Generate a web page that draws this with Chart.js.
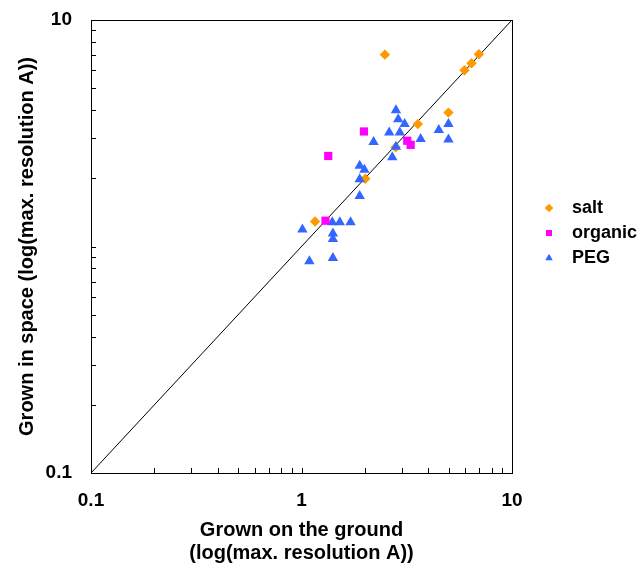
<!DOCTYPE html>
<html>
<head>
<meta charset="utf-8">
<script src="https://cdn.jsdelivr.net/npm/chart.js@4.4.1/dist/chart.umd.min.js"></script>
<style>
  html, body { margin: 0; padding: 0; background: #fff; }
</style>
</head>
<body>
<canvas id="grafico" width="644" height="568"></canvas>
<script>
// datos (resolucion max. en A)
const saltX = [2.49, 5.95, 6.42, 6.96, 4.99, 3.57, 2.80, 2.01, 1.16];
const saltY = [7.03, 6.00, 6.44, 7.06, 3.90, 3.47, 2.74, 1.99, 1.29];

const organicX = [1.98, 1.34, 3.18, 3.30, 1.30];
const organicY = [3.22, 2.51, 2.93, 2.81, 1.30];

const pegX = [2.81, 2.88, 3.09, 2.61, 2.93, 2.20, 3.68, 4.49, 4.99, 4.99, 2.81, 2.70,
              1.89, 1.99, 1.89, 1.89, 1.01, 1.40, 1.52, 1.71, 1.41, 1.41, 1.09, 1.41];
const pegY = [4.00, 3.65, 3.47, 3.19, 3.19, 2.89, 2.98, 3.27, 3.47, 2.97, 2.76, 2.48,
              2.27, 2.18, 1.98, 1.67, 1.19, 1.28, 1.28, 1.28, 1.14, 1.08, 0.86, 0.89];

const diagonal = [0.1, 10];

// etiquetas de los ejes (el eje Y no muestra el 1)
const valoresX = [0.1, 1, 10];
const etiquetasX = ['0.1', '1', '10'];
const valoresY = [0.1, 10];
const etiquetasY = ['0.1', '10'];

const tituloX = ['Grown on the ground', '(log(max. resolution A))'];
const tituloY = 'Grown in space (log(max. resolution A))';

// marcas menores de la escala log
const marcas = [];
[0.1, 1].forEach(d => {
  for (let k = 1; k < 10; k++) marcas.push(+(d * k).toFixed(2));
});
marcas.push(10);

const puntos = (xs, ys) => xs.map((x, i) => ({ x, y: ys[i] }));

Chart.defaults.font.family = "'Liberation Sans', Arial, sans-serif";
Chart.defaults.font.weight = 'bold';
Chart.defaults.color = '#000';

const series = [
  { label: 'salt', data: puntos(saltX, saltY), pointStyle: 'rectRot', pointRadius: 5.2, backgroundColor: '#ff9900', borderColor: '#ff9900', order: 3 },
  { label: 'organic', data: puntos(organicX, organicY), pointStyle: 'rect', pointRadius: 5.8, backgroundColor: '#ff00ff', borderColor: '#ff00ff', order: 1 },
  { label: 'PEG', data: puntos(pegX, pegY), pointStyle: 'triangle', pointRadius: 6, backgroundColor: '#3366ff', borderColor: '#3366ff', order: 2 }
];

const marcoYMarcas = {
  id: 'marcoYMarcas',
  afterDraw(chart) {
    const ctx = chart.ctx;
    const a = chart.chartArea;
    const sx = chart.scales.x, sy = chart.scales.y;
    ctx.save();
    ctx.strokeStyle = '#000';
    ctx.lineWidth = 1;
    ctx.beginPath();
    sx.ticks.forEach(t => {
      if (t.value <= 0.1 || t.value >= 10) return;
      const px = Math.round(sx.getPixelForValue(t.value)) + 0.5;
      ctx.moveTo(px, a.bottom);
      ctx.lineTo(px, a.bottom - 5);
    });
    sy.ticks.forEach(t => {
      if (t.value <= 0.1 || t.value >= 10) return;
      const py = Math.round(sy.getPixelForValue(t.value)) + 0.5;
      ctx.moveTo(a.left, py);
      ctx.lineTo(a.left + 5, py);
    });
    ctx.stroke();
    ctx.strokeRect(a.left + 0.5, a.top + 0.5, a.right - a.left, a.bottom - a.top);

    // leyenda a la derecha
    ctx.font = "bold 18px 'Liberation Sans', Arial, sans-serif";
    ctx.textBaseline = 'middle';
    ctx.textAlign = 'left';
    series.forEach((s, i) => {
      const y = 208 + i * 25;
      ctx.fillStyle = s.backgroundColor;
      ctx.beginPath();
      Chart.helpers.drawPoint(ctx, { pointStyle: s.pointStyle, radius: 4.3, borderWidth: 0 }, 549, y);
      ctx.fillStyle = '#000';
      ctx.fillText(s.label, 572, y);
    });
    ctx.restore();
  }
};

const ejeLog = (titulo, pos, valores, etiquetas) => ({
  type: 'logarithmic',
  position: pos,
  min: 0.1,
  max: 10,
  afterBuildTicks: s => { s.ticks = marcas.map(v => ({ value: v })); },
  grid: { display: false, drawTicks: false },
  border: { display: false },
  ticks: {
    autoSkip: false,
    maxRotation: 0,
    font: { size: 19, weight: 'bold' },
    padding: pos === 'bottom' ? 16 : 19,
    callback: v => {
      const i = valores.indexOf(v);
      return i >= 0 ? etiquetas[i] : '';
    }
  },
  title: {
    display: true,
    text: titulo,
    font: { size: 20, weight: 'bold', lineHeight: 1.15 },
    padding: pos === 'bottom' ? { top: 0, bottom: 3 } : { top: 16, bottom: 0 }
  },
  afterFit: s => {
    if (pos === 'bottom') {
      s.height = 95;
    } else {
      s.width = 91;
      s.paddingTop = 0;
      s.paddingBottom = 0;
    }
  }
});

new Chart(document.getElementById('grafico'), {
  type: 'scatter',
  data: {
    datasets: [
      ...series.map(s => ({ ...s, borderWidth: 0, pointHoverRadius: s.pointRadius })),
      {
        label: 'diagonal',
        data: puntos(diagonal, diagonal),
        showLine: true,
        borderColor: '#000',
        borderWidth: 1,
        pointRadius: 0,
        order: 10
      }
    ]
  },
  options: {
    responsive: false,
    animation: false,
    devicePixelRatio: 1,
    layout: { padding: { top: 20, right: 132, bottom: 0, left: 0 } },
    plugins: {
      legend: { display: false },
      tooltip: { enabled: false }
    },
    scales: {
      x: ejeLog(tituloX, 'bottom', valoresX, etiquetasX),
      y: ejeLog(tituloY, 'left', valoresY, etiquetasY)
    }
  },
  plugins: [marcoYMarcas]
});
</script>
</body>
</html>
